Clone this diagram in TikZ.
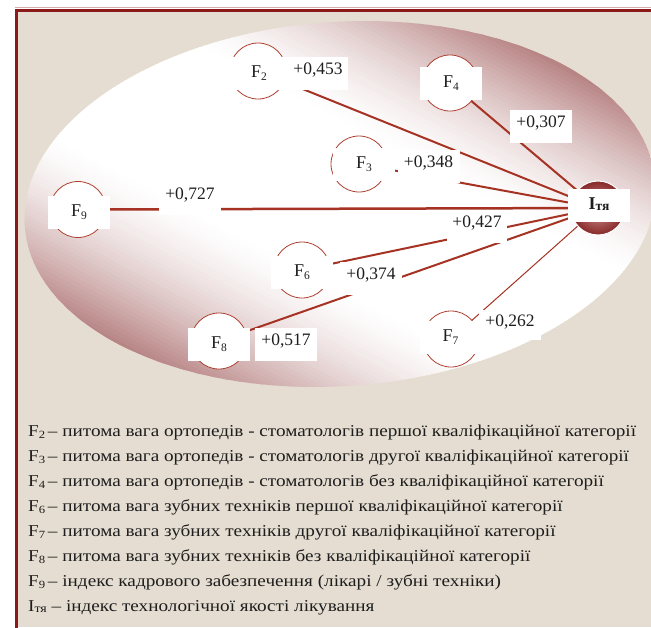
\documentclass[tikz,border=0pt]{standalone}
\usepackage{fontspec}
\setmainfont{Liberation Serif}
\newfontfamily\legfont[FakeStretch=1.156]{Liberation Serif}
\definecolor{beige}{RGB}{229,221,209}
\definecolor{framered}{RGB}{140,25,25}
\definecolor{rose}{RGB}{170,108,108}
\definecolor{linered}{RGB}{165,50,35}
\definecolor{circred}{RGB}{175,65,50}
\definecolor{ityin}{RGB}{215,150,150}
\definecolor{ityout}{RGB}{135,40,40}
\definecolor{txt}{RGB}{30,30,30}
\pgfdeclarelayer{back}
\pgfdeclarelayer{edges}
\pgfsetlayers{back,edges,main}
\newcommand{\Fn}[1]{F\raisebox{-3pt}{\fontsize{11.5}{12}\selectfont #1}}
\newcommand{\Fl}[1]{F\raisebox{-2.5pt}{\fontsize{11}{12}\selectfont #1}}
\begin{document}
\begin{tikzpicture}[x=1pt,y=-1pt,
  fcirc/.style={circle, draw=circred, line width=0.8pt, fill=white, minimum size=56pt, inner sep=0pt},
  fbox/.style={rectangle, fill=white, minimum width=62pt, minimum height=33pt, inner sep=0pt, text=txt, text height=12pt, text depth=4pt, font=\fontsize{18}{20}\selectfont},
  vbox/.style={rectangle, fill=white, minimum width=62pt, minimum height=33pt, inner sep=0pt, text=txt, text height=12pt, text depth=10pt, font=\fontsize{17.5}{20}\selectfont},
  conn/.style={draw=linered, line width=2pt},
  legend/.style={anchor=base west, inner sep=0pt, text=txt, font=\legfont\fontsize{16.6}{20}\selectfont}
]
\useasboundingbox (0,0) rectangle (651,627);
\begin{pgfonlayer}{back}
  \fill[white] (0,0) rectangle (651,627);
  \fill[beige] (16.5,10) rectangle (651,627);
  \draw[framered!35!white, line width=0.8pt] (15,7.6) -- (651,7.6);
  \draw[framered, line width=3pt] (16.5,640) -- (16.5,10) -- (660,10);
  \begin{scope}
    \clip[rotate around={4:(340,204)}] (340,204) ellipse [x radius=316, y radius=182];
    \begin{scope}[shift={(340,204)}, rotate=62]
      \foreach \t in {-250,-246,...,250}{
        \pgfmathsetmacro\myq{max(0.0001,(abs(\t)-70)/175)}
        \pgfmathsetmacro\myp{min(100,100*\myq^1.6)}
        \fill[rose!\myp!white] (\t-2.6,-360) rectangle (\t+2.6,360);
      }
    \end{scope}
  \end{scope}
\end{pgfonlayer}

% factor circles
\node[fcirc] (f2c) at (258,71) {};
\node[fcirc] (f4c) at (450,83) {};
\node[fcirc] (f3c) at (359,164) {};
\node[fcirc] (f9c) at (78,209.5) {};
\node[fcirc] (f6c) at (302,270) {};
\node[fcirc] (f8c) at (219,341) {};
\node[fcirc] (f7c) at (451,339) {};
\node[circle, minimum size=54pt, inner sep=0pt, draw=white, line width=1pt, inner color=ityin, outer color=ityout] (ity) at (598,208) {};

% factor labels
\node[fbox] (f2) at (259,73.5) {\Fn{2}};
\node[fbox] (f4) at (451,83.5) {\Fn{4}};
\node[fbox] (f3) at (364,164.5) {\Fn{3}};
\node[fbox] (f9) at (79,212) {\Fn{9}};
\node[fbox] (f6) at (302,272) {\Fn{6}};
\node[fbox] (f8) at (219,344) {\Fn{8}};
\node[fbox] (f7) at (450.5,337.5) {\Fn{7}};
\node[fbox, font=\fontsize{18}{20}\selectfont\bfseries] (itylab) at (599,205.5) {I\raisebox{-1pt}{\fontsize{13.5}{14}\selectfont тя}};

% coefficient labels
\node[vbox, minimum width=60pt] (v2) at (318,73.5) {+0,453};
\node[vbox] (v4) at (541,126.5) {+0,307};
\node[vbox] (v3) at (428.5,166) {+0,348};
\node[vbox] (v9) at (190,198.5) {+0,727};
\node[vbox, minimum width=60pt] (v6) at (477,226) {+0,427};
\node[vbox] (v8a) at (371,278) {+0,374};
\node[vbox] (v8) at (286,344) {+0,517};
\node[vbox, minimum height=30pt] (v7) at (510,325) {+0,262};

\begin{pgfonlayer}{edges}
  \draw[conn] (f2c.center) -- (ity.center);
  \draw[conn] (f4c.center) -- (ity.center);
  \draw[conn] (f3c.center) -- (ity.center);
  \draw[conn, line width=2.5pt] (f9c.center) -- (ity.center);
  \draw[conn] (f6c.center) -- (ity.center);
  \draw[conn] (f8c.center) -- (ity.center);
  \draw[conn, line width=1pt] (f7c.center) -- (ity.center);
\end{pgfonlayer}

% legend
\node[legend] (l1) at (28,436) {\Fl{2}\,– питома вага ортопедів - стоматологів першої кваліфікаційної категорії};
\node[legend] (l2) at (28,461) {\Fl{3}\,– питома вага ортопедів - стоматологів другої кваліфікаційної категорії};
\node[legend] (l3) at (28,486) {\Fl{4}\,– питома вага ортопедів - стоматологів без кваліфікаційної категорії};
\node[legend] (l4) at (28,511) {\Fl{6}\,– питома вага зубних техніків першої кваліфікаційної категорії};
\node[legend] (l5) at (28,536) {\Fl{7}\,– питома вага зубних техніків другої кваліфікаційної категорії};
\node[legend] (l6) at (28,561) {\Fl{8}\,– питома вага зубних техніків без кваліфікаційної категорії};
\node[legend] (l7) at (28,586) {\Fl{9}\,– індекс кадрового забезпечення (лікарі / зубні техніки)};
\node[legend] (l8) at (28,611) {I\raisebox{-1pt}{\fontsize{12}{13}\selectfont тя} – індекс технологічної якості лікування};
\end{tikzpicture}
\end{document}
